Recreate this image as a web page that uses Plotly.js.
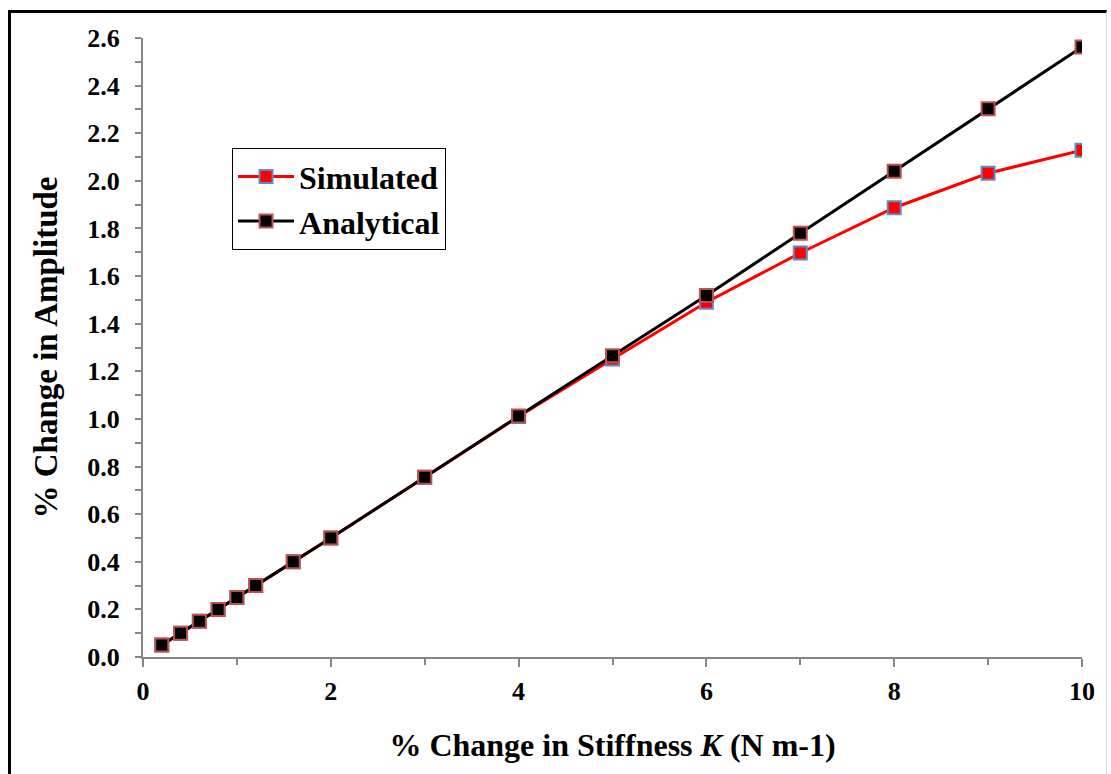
<!DOCTYPE html>
<html>
<head>
<meta charset="utf-8">
<script src="https://cdn.plot.ly/plotly-3.0.1.min.js"></script>
<style>
  html, body { margin: 0; padding: 0; background: #fff; }
  #chart { width: 1111px; height: 774px; position: relative; }
  #frame { position: absolute; left: 8px; top: 10px; width: 1099px; height: 800px;
           border-left: 3px solid #000; border-top: 3px solid #000; border-right: 1px solid #d9d9d9;
           pointer-events: none; box-sizing: border-box; }
</style>
</head>
<body>
<div id="chart"></div>
<div id="frame"></div>
<script>
const stiffnessChange = [0.2, 0.4, 0.6, 0.8, 1.0, 1.2, 1.6, 2, 3, 4, 5, 6, 7, 8, 9, 10];
const simulated  = [0.05, 0.10, 0.15, 0.20, 0.25, 0.30, 0.40, 0.50, 0.755, 1.01, 1.252, 1.49, 1.697, 1.887, 2.032, 2.129];
const analytical = [0.05, 0.10, 0.15, 0.20, 0.25, 0.30, 0.40, 0.50, 0.755, 1.012, 1.265, 1.518, 1.78, 2.04, 2.303, 2.562];
const seriesNames = ['Simulated', 'Analytical'];
const xTitle = '% Change in Stiffness <i>K</i> (N m-1)';
const yTitle = '% Change in Amplitude';

const serif = 'Liberation Serif, Times New Roman, serif';

const traces = [
  {
    x: stiffnessChange, y: simulated, name: seriesNames[0],
    type: 'scatter', mode: 'lines+markers',
    line: { color: '#ff0000', width: 3 },
    marker: { symbol: 'square', size: 13, color: '#ff0000', line: { color: '#5b8bc9', width: 2 } }
  },
  {
    x: stiffnessChange, y: analytical, name: seriesNames[1],
    type: 'scatter', mode: 'lines+markers',
    line: { color: '#000000', width: 3 },
    marker: { symbol: 'square', size: 13, color: '#000000', line: { color: '#c0504d', width: 2 } }
  }
];

const axisColor = '#868686';
const layout = {
  width: 1111, height: 774,
  margin: { l: 143, r: 29, t: 38, b: 117 },
  paper_bgcolor: '#ffffff', plot_bgcolor: '#ffffff',
  font: { family: serif, color: '#000' },
  showlegend: true,
  legend: {
    x: 0.0948, y: 0.822, xanchor: 'left', yanchor: 'top',
    bgcolor: '#ffffff', bordercolor: '#000000', borderwidth: 1,
    font: { family: serif, size: 32, weight: 'bold', color: '#000' },
    itemwidth: 56, tracegroupgap: 10
  },
  xaxis: {
    range: [0, 10], dtick: 2, tick0: 0,
    showgrid: false, zeroline: false,
    showline: true, linecolor: axisColor, linewidth: 2,
    ticks: 'outside', ticklen: 8, tickwidth: 2, tickcolor: axisColor,
    minor: { dtick: 1, ticks: 'outside', ticklen: 6, tickwidth: 2, tickcolor: axisColor, showgrid: false },
    tickfont: { family: serif, size: 26, weight: 'bold', color: '#000' },
    ticklabelstandoff: 2,
    title: { text: xTitle, standoff: 28, font: { family: serif, size: 32, weight: 'bold', color: '#000' } },
    automargin: false
  },
  yaxis: {
    range: [0, 2.6], dtick: 0.2, tick0: 0, tickformat: '.1f',
    showgrid: false, zeroline: false,
    showline: true, linecolor: axisColor, linewidth: 2,
    ticks: 'outside', ticklen: 6, tickwidth: 2, tickcolor: axisColor,
    minor: { dtick: 0.1, ticks: 'outside', ticklen: 6, tickwidth: 2, tickcolor: axisColor, showgrid: false },
    tickfont: { family: serif, size: 26, weight: 'bold', color: '#000' },
    ticklabelstandoff: 10,
    title: { text: yTitle, standoff: 20, font: { family: serif, size: 33, weight: 'bold', color: '#000' } },
    automargin: false
  }
};

Plotly.newPlot('chart', traces, layout, { displayModeBar: false, staticPlot: true });
</script>
</body>
</html>
